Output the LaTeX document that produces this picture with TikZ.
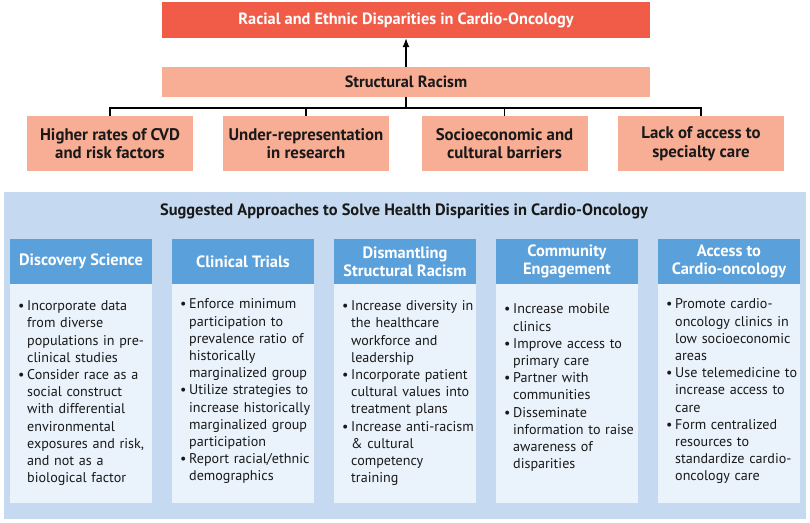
\documentclass[tikz,border=0pt]{standalone}
\usepackage{fontspec}
\setmainfont{PT Sans}
\usetikzlibrary{arrows.meta}
\definecolor{topred}{RGB}{240,92,72}
\definecolor{salmon}{RGB}{248,173,149}
\definecolor{panelblue}{RGB}{197,218,240}
\definecolor{headblue}{RGB}{90,160,218}
\definecolor{bodyblue}{RGB}{234,242,251}
\definecolor{ink}{RGB}{25,25,25}
\newcommand{\bul}{\par\hangindent=9pt\hangafter=1\noindent\makebox[9pt][l]{\textbullet}}
\begin{document}
\begin{tikzpicture}[x=1pt,y=-1pt]
\useasboundingbox (0,0) rectangle (810,522);
\tikzset{
 topbox/.style={fill=topred, minimum width=488pt, minimum height=36pt, inner sep=0pt, text=white, font=\bfseries\fontsize{16.3}{19}\selectfont},
 srbox/.style={fill=salmon, minimum width=488pt, minimum height=30pt, inner sep=0pt, text=ink, font=\bfseries\fontsize{16.3}{19}\selectfont},
 causebox/.style={fill=salmon, minimum width=166pt, minimum height=55pt, inner sep=0pt, align=center, text=ink, font=\bfseries\fontsize{16.8}{18.7}\selectfont},
 headbox/.style={fill=headblue, minimum width=142pt, minimum height=45pt, inner sep=0pt, align=center, text=white, font=\bfseries\fontsize{16.4}{18.3}\selectfont},
 bodybox/.style={fill=bodyblue, minimum width=142pt, minimum height=219pt, inner sep=0pt},
 bodytext/.style={anchor=north west, text width=138pt, inner sep=0pt, text=ink, font=\fontsize{14.1}{17.2}\selectfont, align=left},
 link/.style={draw=black, line width=1.3pt}
}
% top part
\node[topbox] (top) at (406,20) {Racial and Ethnic Disparities in Cardio-Oncology};
\node[srbox] (sr) at (406,82) {Structural Racism};
\node[causebox] (c1) at (110,143.5) {Higher rates of CVD\\and risk factors};
\node[causebox] (c2) at (306,143.5) {Under-representation\\in research};
\node[causebox] (c3) at (504.5,143.5) {Socioeconomic and\\cultural barriers};
\node[causebox] (c4) at (701,143.5) {Lack of access to\\specialty care};
\draw[link, -{Latex[length=9pt,width=7pt]}] (sr.north) -- (top.south);
\coordinate (bus) at (406,108);
\draw[link] (sr.south) -- (bus);
\draw[link] (c1.north) |- (bus) -| (c4.north);
\draw[link] (c2.north) -- (c2.north |- bus);
\draw[link] (c3.north) -- (c3.north |- bus);
% panel
\fill[panelblue] (4,192) rectangle (806,519);
\node[text=ink, font=\bfseries\fontsize{16.4}{19}\selectfont] (title) at (404,211) {Suggested Approaches to Solve Health Disparities in Cardio-Oncology};
\foreach \i/\x in {1/81,2/243,3/405,4/567,5/729}{
  \node[bodybox] (b\i) at (\x,393.5) {};
}
\node[headbox] (h1) at (81,261.5) {Discovery Science};
\node[headbox] (h2) at (243,261.5) {Clinical Trials};
\node[headbox] (h3) at (405,261.5) {Dismantling\\Structural Racism};
\node[headbox] (h4) at (567,261.5) {Community\\Engagement};
\node[headbox] (h5) at (729,261.5) {Access to\\Cardio-oncology};
\node[bodytext] (t1) at (18,293.3) {%
\bul Incorporate data\newline from diverse\newline populations in pre-\newline clinical studies
\bul Consider race as a\newline social construct\newline with differential\newline environmental\newline exposures and risk,\newline and not as a\newline biological factor\par};
\node[bodytext] (t2) at (180,291.5) {%
\bul Enforce minimum\newline participation to\newline prevalence ratio of\newline historically\newline marginalized group
\bul Utilize strategies to\newline increase historically\newline marginalized group\newline participation
\bul Report racial/ethnic\newline demographics\par};
\node[bodytext] (t3) at (342,293.3) {%
\bul Increase diversity in\newline the healthcare\newline workforce and\newline leadership
\bul Incorporate patient\newline cultural values into\newline treatment plans
\bul Increase anti-racism\newline \& cultural\newline competency\newline training\par};
\node[bodytext] (t4) at (504,296.5) {%
\bul Increase mobile\newline clinics
\bul Improve access to\newline primary care
\bul Partner with\newline communities
\bul Disseminate\newline information to raise\newline awareness of\newline disparities\par};
\node[bodytext] (t5) at (666,291.5) {%
\bul Promote cardio-\newline oncology clinics in\newline low socioeconomic\newline areas
\bul Use telemedicine to\newline increase access to\newline care
\bul Form centralized\newline resources to\newline standardize cardio-\newline oncology care\par};
\end{tikzpicture}
\end{document}
